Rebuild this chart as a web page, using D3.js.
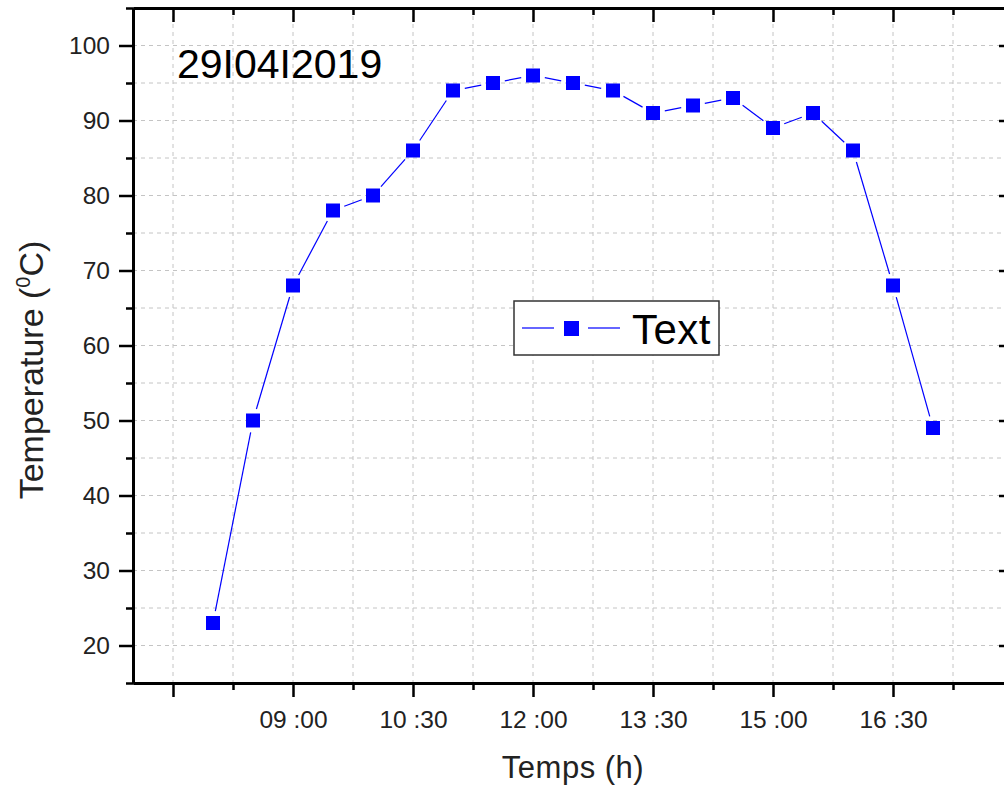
<!DOCTYPE html>
<html>
<head>
<meta charset="utf-8">
<script src="https://cdn.jsdelivr.net/npm/d3@7/dist/d3.min.js"></script>
<style>
  html, body { margin: 0; padding: 0; background: #fff; }
  svg { display: block; }
  text { font-family: Arial, "Liberation Sans", sans-serif; }
</style>
</head>
<body>
<svg id="chart" width="1004" height="789"></svg>
<script>
// Time of measurement (decimal hours) and recorded temperature (°C)
const hours = [8.0, 8.5, 9.0, 9.5, 10.0, 10.5, 11.0, 11.5, 12.0, 12.5, 13.0, 13.5, 14.0, 14.5, 15.0, 15.5, 16.0, 16.5, 17.0];
const temperature = [23, 50, 68, 78, 80, 86, 94, 95, 96, 95, 94, 91, 92, 93, 89, 91, 86, 68, 49];

// Axis ticks
const xMajorTicks = [7.5, 9, 10.5, 12, 13.5, 15, 16.5, 18];
const xTickLabels = ["", "09 :00", "10 :30", "12 :00", "13 :30", "15 :00", "16 :30", ""];
const xMinorTicks = [8.25, 9.75, 11.25, 12.75, 14.25, 15.75, 17.25];
const yMajorTicks = [20, 30, 40, 50, 60, 70, 80, 90, 100];
const yMinorTicks = [15, 25, 35, 45, 55, 65, 75, 85, 95, 105];

const seriesName = "Text";
const dateLabel = "29I04I2019";

const svg = d3.select("#chart");
const frame = { left: 133, right: 1013, top: 8, bottom: 683 };

const x = d3.scaleLinear().domain([7, 18]).range([frame.left, frame.right]);
const y = d3.scaleLinear().domain([15, 105]).range([frame.bottom, frame.top]);

// Dashed grid
const grid = svg.append("g").attr("stroke", "#c4c4c4").attr("stroke-width", 1).attr("stroke-dasharray", "4,4");
grid.selectAll("line.v").data(xMajorTicks.concat(xMinorTicks).filter(d => d < 18)).join("line")
  .attr("x1", d => x(d)).attr("x2", d => x(d)).attr("y1", frame.top).attr("y2", frame.bottom);
grid.selectAll("line.h").data(yMajorTicks.concat(yMinorTicks).filter(d => d < 105 && d > 15)).join("line")
  .attr("y1", d => y(d)).attr("y2", d => y(d)).attr("x1", frame.left).attr("x2", frame.right);

// Axes
function styleAxis(g) {
  g.select(".domain").attr("stroke", "#000").attr("stroke-width", 3);
  g.selectAll(".tick line").attr("stroke", "#000").attr("stroke-width", 2.5);
  g.selectAll(".tick text").attr("fill", "#222").attr("font-size", 24.5);
}

svg.append("g").attr("transform", `translate(0,${frame.bottom})`)
  .call(d3.axisBottom(x).tickValues(xMajorTicks).tickFormat((d, i) => xTickLabels[i]).tickSize(14).tickSizeOuter(0).tickPadding(14))
  .call(styleAxis);
svg.append("g").attr("transform", `translate(0,${frame.bottom})`)
  .call(d3.axisBottom(x).tickValues(xMinorTicks).tickFormat("").tickSize(7).tickSizeOuter(0))
  .call(styleAxis);

svg.append("g").attr("transform", `translate(${frame.left},0)`)
  .call(d3.axisLeft(y).tickValues(yMajorTicks).tickSize(14).tickSizeOuter(0).tickPadding(9))
  .call(styleAxis);
svg.append("g").attr("transform", `translate(${frame.left},0)`)
  .call(d3.axisLeft(y).tickValues(yMinorTicks).tickFormat("").tickSize(7).tickSizeOuter(0))
  .call(styleAxis);

// Mirrored top and right axes with inward ticks
svg.append("g").attr("transform", `translate(0,${frame.top})`)
  .call(d3.axisTop(x).tickValues(xMajorTicks).tickFormat("").tickSize(-14).tickSizeOuter(0)).call(styleAxis);
svg.append("g").attr("transform", `translate(0,${frame.top})`)
  .call(d3.axisTop(x).tickValues(xMinorTicks).tickFormat("").tickSize(-7).tickSizeOuter(0)).call(styleAxis);
svg.append("g").attr("transform", `translate(${frame.right},0)`)
  .call(d3.axisRight(y).tickValues(yMajorTicks).tickFormat("").tickSize(-14).tickSizeOuter(0)).call(styleAxis);
svg.append("g").attr("transform", `translate(${frame.right},0)`)
  .call(d3.axisRight(y).tickValues(yMinorTicks).tickFormat("").tickSize(-7).tickSizeOuter(0)).call(styleAxis);

// Connecting line, broken near each marker
const pts = hours.map((h, i) => [x(h), y(temperature[i])]);
const gap = 12;
const segs = d3.pairs(pts).map(([a, b]) => {
  const dx = b[0] - a[0], dy = b[1] - a[1], len = Math.hypot(dx, dy);
  const ux = dx / len, uy = dy / len;
  return [a[0] + ux * gap, a[1] + uy * gap, b[0] - ux * gap, b[1] - uy * gap];
});
svg.append("g").attr("stroke", "#0000ff").attr("stroke-width", 1.2)
  .selectAll("line").data(segs).join("line")
  .attr("x1", d => d[0]).attr("y1", d => d[1]).attr("x2", d => d[2]).attr("y2", d => d[3]);

// Square markers
const ms = 14;
svg.append("g").selectAll("rect").data(hours).join("rect")
  .attr("x", (d) => x(d) - ms / 2)
  .attr("y", (d, i) => y(temperature[i]) - ms / 2)
  .attr("width", ms).attr("height", ms)
  .attr("fill", "#0000ff");

// Date label
svg.append("text").attr("x", 177).attr("y", 78).attr("font-size", 41).attr("fill", "#000").text(dateLabel);

// Legend
const lg = svg.append("g");
lg.append("rect").attr("x", 514).attr("y", 301).attr("width", 205).attr("height", 54)
  .attr("fill", "#fff").attr("stroke", "#333").attr("stroke-width", 1.5);
lg.append("line").attr("x1", 522).attr("x2", 554).attr("y1", 328).attr("y2", 328).attr("stroke", "#0000ff").attr("stroke-width", 1.2);
lg.append("line").attr("x1", 588).attr("x2", 620).attr("y1", 328).attr("y2", 328).attr("stroke", "#0000ff").attr("stroke-width", 1.2);
lg.append("rect").attr("x", 564).attr("y", 321).attr("width", 15).attr("height", 15).attr("fill", "#0000ff");
lg.append("text").attr("x", 632).attr("y", 344).attr("font-size", 42).attr("letter-spacing", 0.5).attr("fill", "#000").text(seriesName);

// Axis titles
svg.append("text").attr("x", 573).attr("y", 778).attr("text-anchor", "middle")
  .attr("font-size", 31).attr("fill", "#222").attr("letter-spacing", 0.5).text("Temps (h)");

const yt = svg.append("text").attr("transform", "translate(43,370) rotate(-90)")
  .attr("text-anchor", "middle").attr("font-size", 34).attr("fill", "#222");
yt.append("tspan").text("Temperature (");
yt.append("tspan").attr("font-size", 20).attr("dy", -13).text("0");
yt.append("tspan").attr("dy", 13).text("C)");
</script>
</body>
</html>
